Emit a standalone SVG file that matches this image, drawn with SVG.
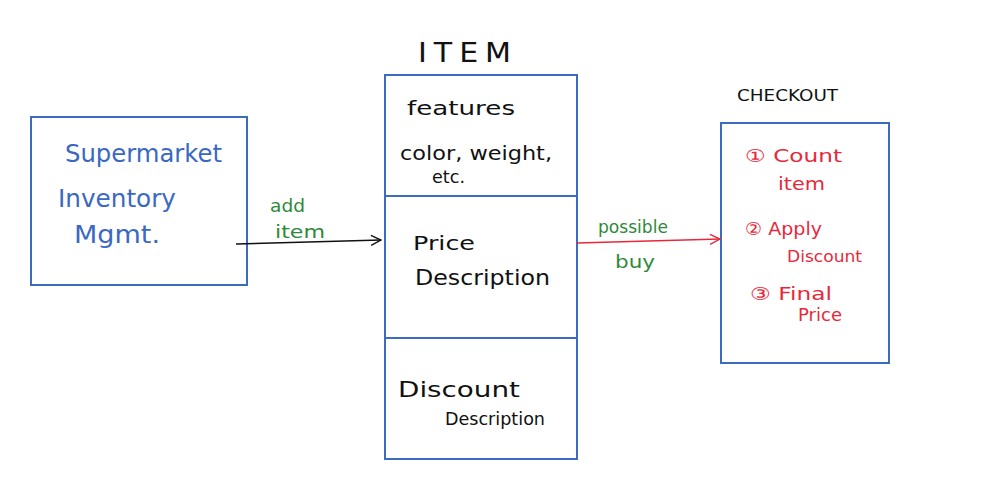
<svg xmlns="http://www.w3.org/2000/svg" width="985" height="497" viewBox="0 0 985 497">
<defs>
<style>
.box{fill:none;stroke:#3b6cc0;stroke-width:2}
.t{font-family:"DejaVu Sans","Liberation Sans",sans-serif}
.blue{fill:#3a68c2;font-size:24px}
.blk{fill:#111;font-size:19px}
.grn{fill:#2e8a3a;font-size:18px}
.red{fill:#e8283a;font-size:18px}
</style>
<marker id="ab" viewBox="0 0 12 12" refX="11" refY="6" markerWidth="12" markerHeight="12" markerUnits="userSpaceOnUse" orient="auto"><path d="M1,1 L11,6 L1,11" fill="none" stroke="#111" stroke-width="1.4"/></marker>
<marker id="ar" viewBox="0 0 12 12" refX="11" refY="6" markerWidth="12" markerHeight="12" markerUnits="userSpaceOnUse" orient="auto"><path d="M1,1 L11,6 L1,11" fill="none" stroke="#e8283a" stroke-width="1.4"/></marker>
</defs>
<rect width="985" height="497" fill="#fff"/>
<g id="supermarket">
<rect class="box" x="31" y="117" width="216" height="168"/>
<text class="t blue" x="65" y="162" textLength="157" lengthAdjust="spacingAndGlyphs">Supermarket</text>
<text class="t blue" x="58" y="207" textLength="118" lengthAdjust="spacingAndGlyphs">Inventory</text>
<text class="t blue" x="74" y="243" textLength="86" lengthAdjust="spacingAndGlyphs">Mgmt.</text>
</g>
<g id="item">
<text class="t blk" x="418" y="62" textLength="100" lengthAdjust="spacingAndGlyphs" style="font-size:26px;letter-spacing:6px">ITEM</text>
<rect class="box" x="385" y="75" width="192" height="384"/>
<line class="box" x1="385" y1="196" x2="577" y2="196"/>
<line class="box" x1="385" y1="338" x2="577" y2="338"/>
<text class="t blk" x="407" y="115" textLength="108" lengthAdjust="spacingAndGlyphs">features</text>
<text class="t blk" x="400" y="160" textLength="152" lengthAdjust="spacingAndGlyphs">color, weight,</text>
<text class="t blk" x="432" y="183" textLength="33" lengthAdjust="spacingAndGlyphs" style="font-size:17px">etc.</text>
<text class="t blk" x="413" y="250" textLength="62" lengthAdjust="spacingAndGlyphs" style="font-size:20px">Price</text>
<text class="t blk" x="415" y="285" textLength="135" lengthAdjust="spacingAndGlyphs" style="font-size:21px">Description</text>
<text class="t blk" x="398" y="397" textLength="122" lengthAdjust="spacingAndGlyphs" style="font-size:22px">Discount</text>
<text class="t blk" x="445" y="425" textLength="100" lengthAdjust="spacingAndGlyphs" style="font-size:18px">Description</text>
</g>
<g id="checkout">
<text class="t" x="737" y="101" fill="#111" style="font-size:16px" textLength="101" lengthAdjust="spacingAndGlyphs">CHECKOUT</text>
<rect class="box" x="721" y="123" width="168" height="240"/>
<text class="t red" x="745" y="162" textLength="97" lengthAdjust="spacingAndGlyphs">① Count</text>
<text class="t red" x="778" y="190" textLength="47" lengthAdjust="spacingAndGlyphs">item</text>
<text class="t red" x="745" y="235" textLength="77" lengthAdjust="spacingAndGlyphs">② Apply</text>
<text class="t red" x="787" y="262" textLength="75" lengthAdjust="spacingAndGlyphs" style="font-size:16px">Discount</text>
<text class="t red" x="750" y="300" textLength="82" lengthAdjust="spacingAndGlyphs">③ Final</text>
<text class="t red" x="798" y="321" textLength="44" lengthAdjust="spacingAndGlyphs">Price</text>
</g>
<g id="connectors">
<line x1="236" y1="244" x2="381" y2="240" stroke="#111" stroke-width="1.4" marker-end="url(#ab)"/>
<text class="t grn" x="270" y="212" textLength="35" lengthAdjust="spacingAndGlyphs">add</text>
<text class="t grn" x="275" y="238" textLength="50" lengthAdjust="spacingAndGlyphs">item</text>
<line x1="577" y1="243" x2="720" y2="239" stroke="#e8283a" stroke-width="1.4" marker-end="url(#ar)"/>
<text class="t grn" x="598" y="233" textLength="70" lengthAdjust="spacingAndGlyphs">possible</text>
<text class="t grn" x="615" y="268" textLength="40" lengthAdjust="spacingAndGlyphs">buy</text>
</g>
</svg>
